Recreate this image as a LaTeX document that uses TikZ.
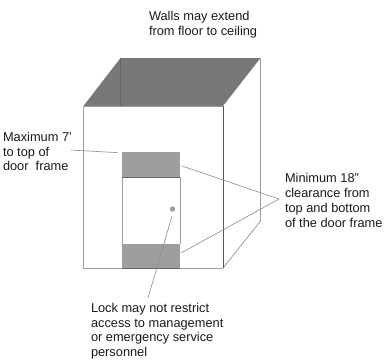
\documentclass[tikz,border=0pt]{standalone}
\usepackage{fontspec}
\setmainfont{Liberation Sans}
\definecolor{roofgray}{gray}{0.47}
\definecolor{bandgray}{gray}{0.62}
\definecolor{wallline}{gray}{0.62}
\definecolor{leadline}{gray}{0.55}
\tikzset{
  wall/.style={draw=wallline,line width=0.8pt},
  darkedge/.style={draw=black!65,line width=0.8pt},
  leader/.style={draw=leadline,line width=0.6pt},
  label/.style={anchor=north west,align=left,inner sep=0pt,outer sep=0pt,
    text=black!90,font=\fontsize{12.8}{14.8}\selectfont},
  band/.style={fill=bandgray,draw=none}
}
\begin{document}
\begin{tikzpicture}[x=1pt,y=-1pt]
\useasboundingbox (0,0) rectangle (385,360);
% box corners
\coordinate (fl) at (83.5,106);
\coordinate (fr) at (223,106);
\coordinate (br) at (223,268);
\coordinate (bl) at (83.5,268);
\coordinate (bkl) at (120.5,58);
\coordinate (bkr) at (260.5,58);
\coordinate (bkrb) at (260.5,221);
\coordinate (bklf) at (120.5,106);
% roof opening and walls
\fill[roofgray] (fl) -- (bkl) -- (bkr) -- (fr) -- cycle;
\draw[draw=black!60,line width=0.6pt] (bkl) -- (bklf);
\draw[wall] (bkr) -- (bkrb) -- (br);
\draw[wall] (fl) -- (bl) -- (br);
\draw[wall] (fl) -- (fr);
\draw[darkedge] (fr) -- (br);
% door and its clearance bands
\node[band,minimum width=58pt,minimum height=25pt,inner sep=0pt,anchor=north west] (topband) at (122,152) {};
\node[band,minimum width=58pt,minimum height=24pt,inner sep=0pt,anchor=north west] (botband) at (122,244) {};
\draw[wall] (topband.south west) -- (botband.north west);
\draw[wall] (topband.south east) -- (botband.north east);
\draw[black!60,line width=0.7pt] (topband.south west) -- (topband.south east);
\draw[black!60,line width=0.7pt] (botband.south west) -- (botband.south east);
\node[circle,fill=bandgray,draw=wallline,line width=0.3pt,minimum size=5pt,inner sep=0pt] (knob) at (172.5,209) {};
% labels
\node[label] (walls) at (149,11) {Walls may extend\\from floor to ceiling};
\node[label] (maxh) at (3,132) {Maximum 7'\\to top of\\door\ \ frame};
\node[label] (clear) at (285,173.5) {Minimum 18"\\clearance from\\top and bottom\\of the door frame};
\node[label] (lock) at (91,303) {Lock may not restrict\\access to management\\or emergency service\\personnel};
% leaders
\coordinate (maxend) at (71,150);
\coordinate (doortop) at (118,152.7);
\coordinate (fork) at (279,199);
\coordinate (bandtop) at (182,166);
\coordinate (bandbot) at (181,253);
\coordinate (lockknob) at (172,216);
\coordinate (locktext) at (148,298);
\draw[leader] (maxend) -- (doortop);
\draw[leader] (bandtop) -- (fork) -- (bandbot);
\draw[leader] (lockknob) -- (locktext);
\end{tikzpicture}
\end{document}
